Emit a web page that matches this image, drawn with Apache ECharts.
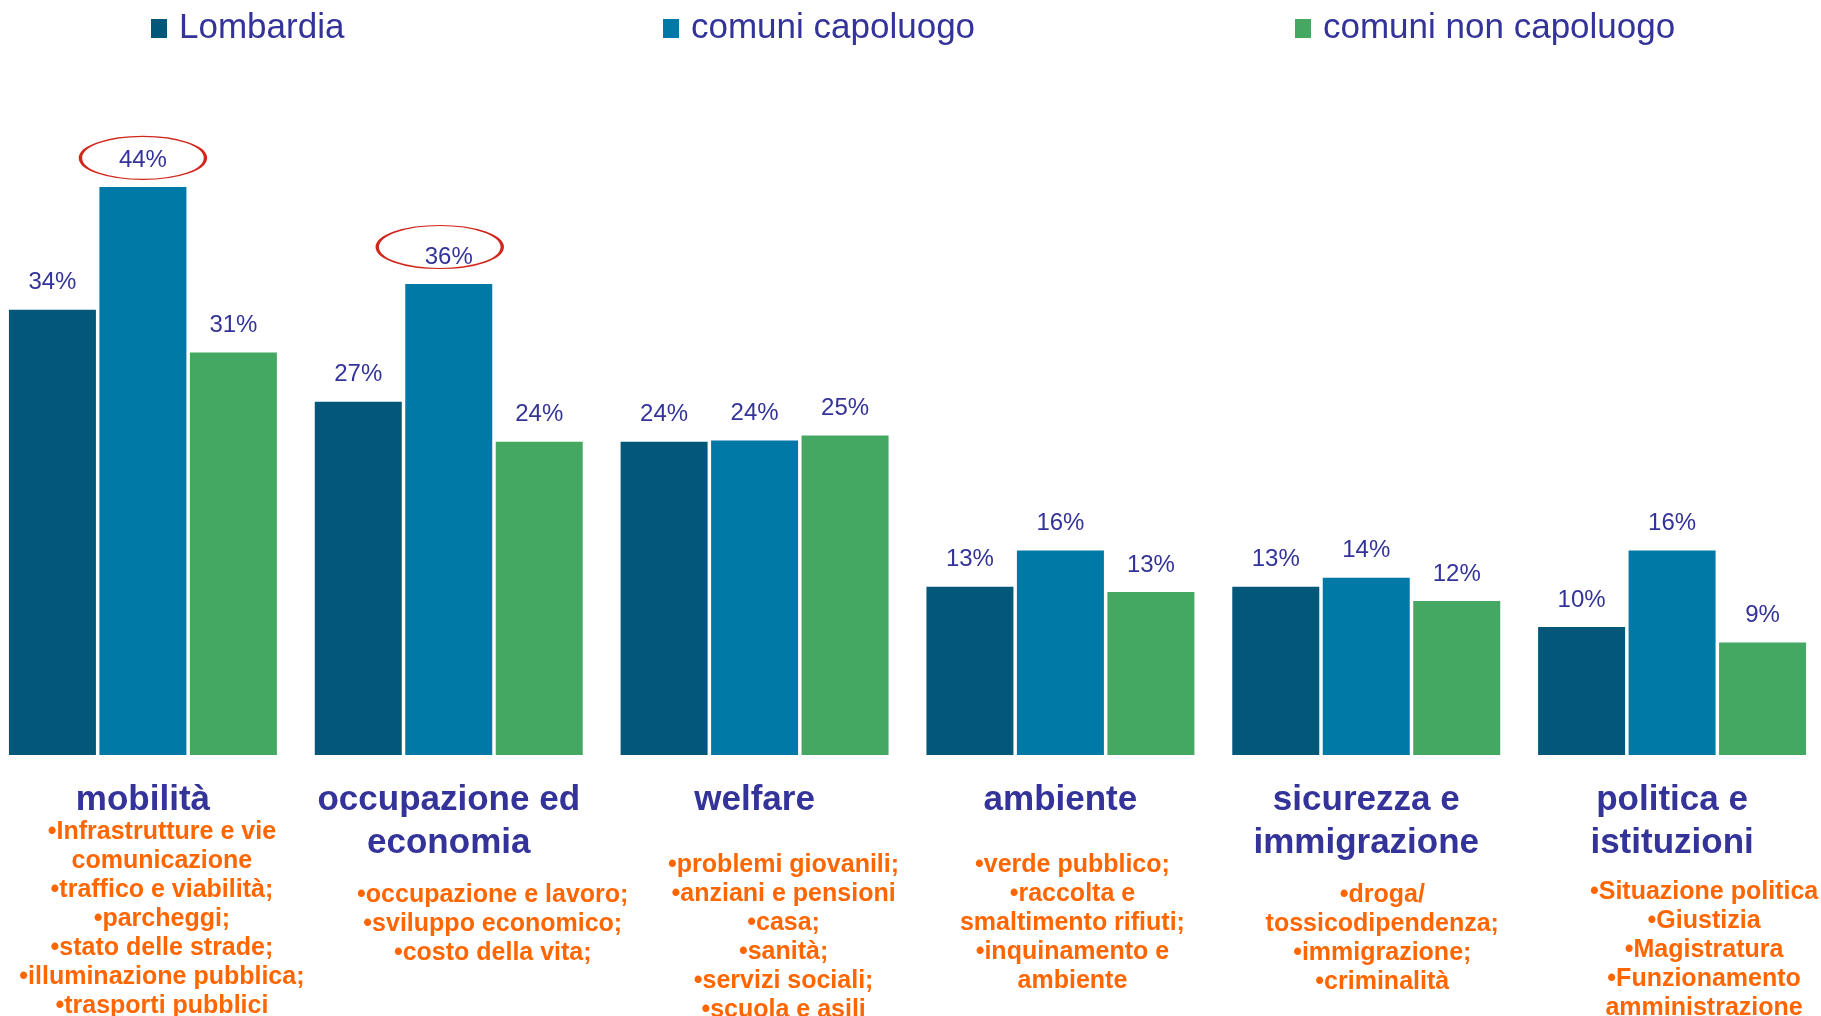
<!DOCTYPE html>
<html>
<head>
<meta charset="utf-8">
<script src="https://cdn.jsdelivr.net/npm/echarts@6/dist/echarts.min.js"></script>
<style>
html,body{margin:0;padding:0;background:#fff;overflow:hidden;}
/* 图表容器向左伸出10px, 让第一组柱子贴近左边 */
#main{width:1835px;height:1016px;margin-left:-10px;}
</style>
</head>
<body>
<div id="main"></div>
<script>
/* 数据 */
var categories = ['mobilità', 'occupazione ed\neconomia', 'welfare', 'ambiente', 'sicurezza e\nimmigrazione', 'politica e\nistituzioni'];
var seriesNames = ['Lombardia', 'comuni capoluogo', 'comuni non capoluogo'];
var lombardia = [34.4, 27.3, 24.2, 13.0, 13.0, 9.9];
var capoluogo = [43.9, 36.4, 24.3, 15.8, 13.7, 15.8];
var nonCapoluogo = [31.1, 24.2, 24.7, 12.6, 11.9, 8.7];
/* 红圈标注 (comuni capoluogo) */
var circled = [0, 1];
/* 各类别下方的说明文字 */
var notes = [
    ['•Infrastrutture e vie', 'comunicazione', '•traffico e viabilità;', '•parcheggi;', '•stato delle strade;', '•illuminazione pubblica;', '•trasporti pubblici'],
    ['•occupazione e lavoro;', '•sviluppo economico;', '•costo della vita;'],
    ['•problemi giovanili;', '•anziani e pensioni', '•casa;', '•sanità;', '•servizi sociali;', '•scuola e asili'],
    ['•verde pubblico;', '•raccolta e', 'smaltimento rifiuti;', '•inquinamento e', 'ambiente'],
    ['•droga/', 'tossicodipendenza;', '•immigrazione;', '•criminalità'],
    ['•Situazione politica', '•Giustizia', '•Magistratura', '•Funzionamento', 'amministrazione']
];
/* 说明文字的位置 (相对类别中心的偏移, 顶部) */
var noteDx = [19, 44, 29, 12, 16, 32];
var noteTop = [818, 881, 851, 851, 881, 878];

var colors = ['#03587a', '#0079a6', '#45a862'];
var FONT = '"Liberation Sans", Arial, sans-serif';
var BLUE_TXT = '#333399';

var chart = echarts.init(document.getElementById('main'));

function labelCfg() {
    return {
        show: true,
        position: 'top',
        distance: 15,
        color: BLUE_TXT,
        fontSize: 24,
        fontFamily: FONT,
        formatter: function (p) { return Math.round(p.value) + '%'; }
    };
}

function legendCfg(name, left) {
    return {
        left: left,
        top: 6,
        itemWidth: 16,
        itemHeight: 19,
        icon: 'rect',
        selectedMode: false,
        data: [name],
        textStyle: {color: BLUE_TXT, fontSize: 35, fontFamily: FONT, padding: [0, 0, 0, 7]}
    };
}

var ellipsePath = 'path://M0,25 C0,11 22,0 50,0 C78,0 100,11 100,25 C100,39 78,50 50,50 C22,50 0,39 0,25 Z';

var option = {
    backgroundColor: '#fff',
    animation: false,
    color: colors,
    legend: [
        legendCfg(seriesNames[0], 156),
        legendCfg(seriesNames[1], 668),
        legendCfg(seriesNames[2], 1300)
    ],
    grid: {left: 0, right: 0, top: 108, bottom: 261},
    xAxis: {
        type: 'category',
        data: categories,
        axisLine: {show: false},
        axisTick: {show: false},
        axisLabel: {
            interval: 0,
            margin: 24,
            color: BLUE_TXT,
            fontSize: 35,
            fontWeight: 'bold',
            fontFamily: FONT,
            lineHeight: 43
        }
    },
    yAxis: {type: 'value', min: 0, max: 50, show: false, splitLine: {show: false}},
    series: [
        {name: seriesNames[0], type: 'bar', barWidth: 87, barGap: '4%', data: lombardia, label: labelCfg()},
        {
            name: seriesNames[1], type: 'bar', barWidth: 87, barGap: '4%', data: capoluogo, label: labelCfg(),
            markPoint: {
                symbol: ellipsePath,
                symbolSize: [125, 43],
                silent: true,
                label: {show: false},
                itemStyle: {color: 'rgba(0,0,0,0)', borderColor: '#d0281e', borderWidth: 2},
                data: circled.map(function (i, k) {
                    return {
                        coord: [i, capoluogo[i]],
                        symbolOffset: k === 0 ? [0, -29] : [-9, -37]
                    };
                })
            }
        },
        {name: seriesNames[2], type: 'bar', barWidth: 87, barGap: '4%', data: nonCapoluogo, label: labelCfg()}
    ]
};
chart.setOption(option);

/* 说明文字: 按类别中心定位 */
var graphics = notes.map(function (lines, i) {
    var cx = chart.convertToPixel({xAxisIndex: 0}, i);
    return {
        type: 'text',
        x: cx + noteDx[i],
        y: noteTop[i],
        silent: true,
        style: {
            text: lines.join('\n'),
            fill: '#ff6600',
            font: 'bold 25px ' + FONT,
            align: 'center',
            verticalAlign: 'top',
            lineHeight: 29
        }
    };
});
chart.setOption({graphic: graphics});
</script>
</body>
</html>
